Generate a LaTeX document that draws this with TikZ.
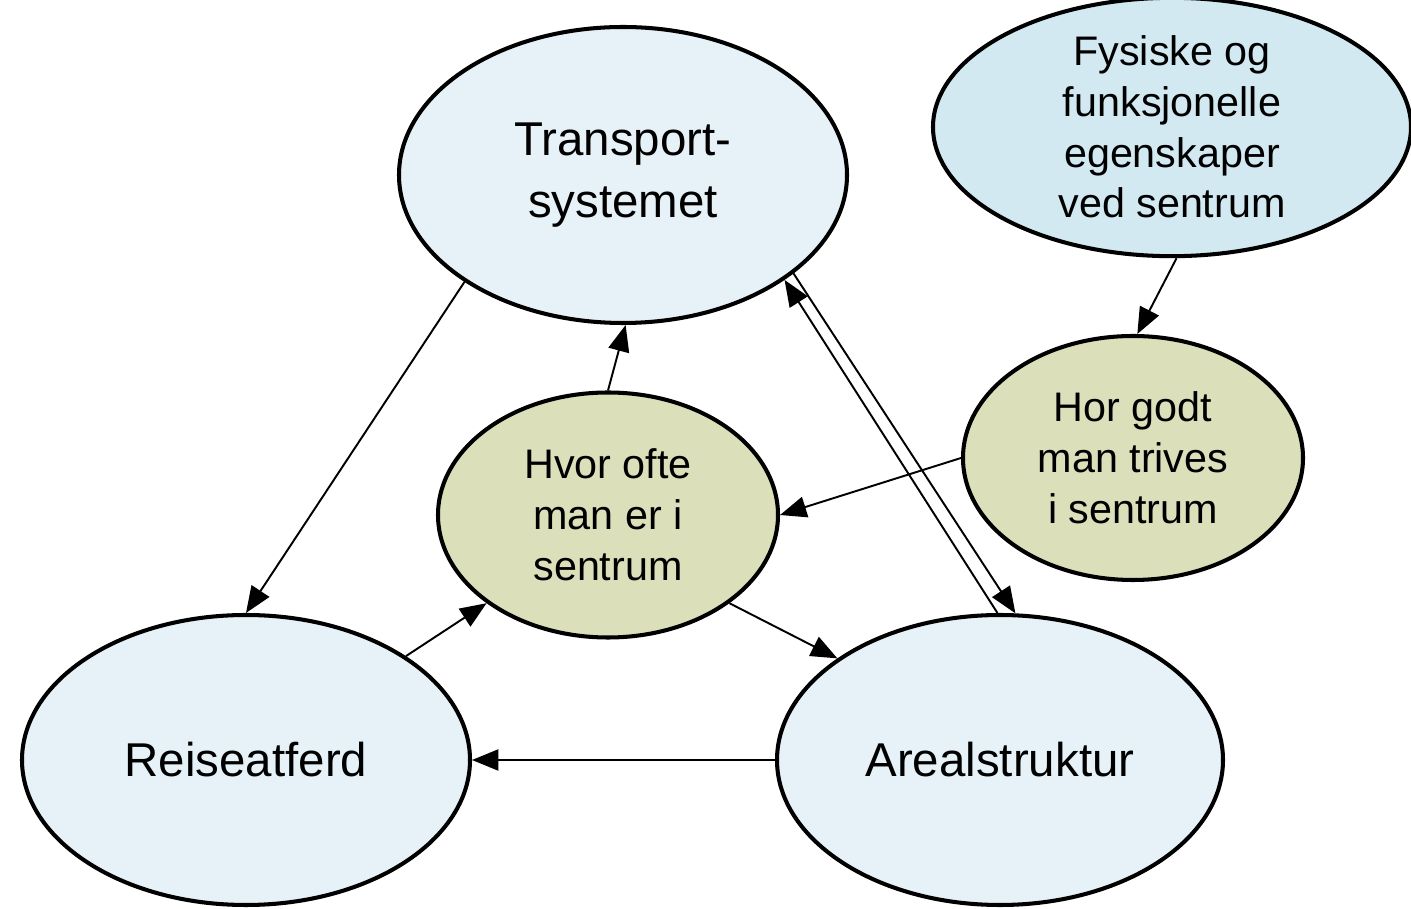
\documentclass[tikz,border=0pt]{standalone}
\usepackage{fontspec}
\setmainfont{Liberation Sans}
\usetikzlibrary{shapes.geometric,arrows.meta}
\definecolor{paleblue}{RGB}{230,242,248}
\definecolor{midblue}{RGB}{210,233,241}
\definecolor{olive}{RGB}{219,223,186}
\tikzset{
  ell/.style={ellipse, draw=black, line width=2.3pt, inner sep=0pt, align=center},
  bigell/.style={ell, fill=paleblue, font=\fontsize{27}{35}\selectfont},
  smallell/.style={ell, font=\fontsize{23.5}{28.9}\selectfont},
  conn/.style={line width=1.1pt, -{Triangle[length=15pt,width=12pt]}}
}
\begin{document}
\begin{tikzpicture}
\useasboundingbox (0,0) rectangle (28.22,18.18);
\node[bigell, minimum width=8.96cm, minimum height=5.92cm] (T) at (12.46,14.68) {Transport-\\systemet};
\node[smallell, fill=midblue, minimum width=9.56cm, minimum height=4.88cm] (F) at (23.44,15.64) {Fysiske og\\funksjonelle\\egenskaper\\ved sentrum};
\node[smallell, fill=olive, minimum width=6.8cm, minimum height=4.88cm] (H) at (22.66,9.02) {Hor godt\\man trives\\i sentrum};
\node[smallell, fill=olive, minimum width=6.8cm, minimum height=4.9cm] (O) at (12.16,7.88) {Hvor ofte\\man er i\\sentrum};
\node[bigell, minimum width=8.96cm, minimum height=5.8cm] (R) at (4.92,2.98) {Reiseatferd};
\node[bigell, minimum width=8.92cm, minimum height=5.8cm] (A) at (20.0,2.98) {Arealstruktur};
\draw[conn] (T.214) -- (R.90);
\draw[conn] (R.33) -- (O.216);
\draw[conn] (O.90) -- (T.-89);
\draw[conn] (O.-36) -- (A.148);
\draw[conn] (A.180) -- (R.0);
\draw[conn] (H.180) -- (O.0);
\draw[conn] (F.-88) -- (H.88);
\draw[conn] (A.91) -- (T.-33);
\draw[conn] (T.-30) -- (A.84);
\end{tikzpicture}
\end{document}
